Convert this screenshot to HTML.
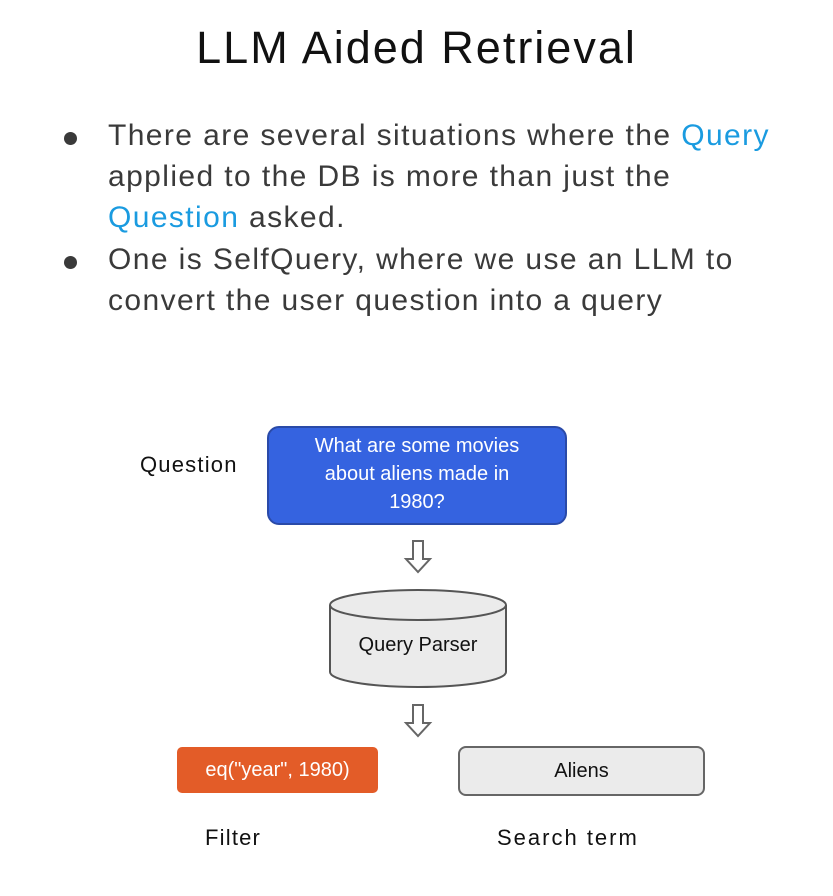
<!DOCTYPE html>
<html><head><meta charset="utf-8"><style>
body{margin:0;width:833px;height:896px;background:#fff;position:relative;overflow:hidden;font-family:"Liberation Sans",sans-serif}
.a{position:absolute;white-space:nowrap}
.title{left:0;width:833px;text-align:center;top:22px;font-size:45px;letter-spacing:2px;color:#111}
.b{left:108px;font-size:30px;letter-spacing:1.4px;color:#3a3a3a}
.q{color:#1a9be0}
.dot{left:64px;width:13px;height:13px;border-radius:50%;background:#3a3a3a}
.l{font-size:22px;color:#111;letter-spacing:1.2px}
</style></head><body>
<div class="a title">LLM Aided Retrieval</div>
<div class="a dot" style="top:132px"></div>
<div class="a dot" style="top:256px"></div>
<div class="a b" style="top:119px">There are several situations where the <span class="q">Query</span></div>
<div class="a b" style="top:160px">applied to the DB is more than just the</div>
<div class="a b" style="top:201px"><span class="q">Question</span> asked.</div>
<div class="a b" style="top:243px">One is SelfQuery, where we use an LLM to</div>
<div class="a b" style="top:284px">convert the user question into a query</div>

<div class="a l" style="left:140px;top:452px">Question</div>
<div class="a" style="left:267px;top:426px;width:296px;height:91px;background:#3563e0;border:2px solid #2a4aa8;border-radius:12px;color:#fff;font-size:20px;text-align:center;line-height:28px;padding-top:4px;box-sizing:content-box;white-space:normal">What are some movies<br>about aliens made in<br>1980?</div>

<svg class="a" style="left:0;top:0" width="833" height="896">
<path d="M413 541 h10 v18 h7 l-12 13 l-12 -13 h7 z" fill="#fff" stroke="#666" stroke-width="2"/>
<path d="M413 705 h10 v18 h7 l-12 13 l-12 -13 h7 z" fill="#fff" stroke="#666" stroke-width="2"/>
<path d="M330 605 v67 a88 15 0 0 0 176 0 v-67" fill="#ebebeb" stroke="#555" stroke-width="2"/>
<ellipse cx="418" cy="605" rx="88" ry="15" fill="#ebebeb" stroke="#555" stroke-width="2"/>
</svg>
<div class="a" style="left:330px;width:176px;text-align:center;top:634px;font-size:20px;color:#111">Query Parser</div>

<div class="a" style="left:177px;top:747px;width:201px;height:46px;background:#e35c28;border-radius:5px;color:#fff;font-size:20px;text-align:center;line-height:46px">eq("year", 1980)</div>
<div class="a" style="left:458px;top:746px;width:243px;height:46px;background:#ebebeb;border:2px solid #666;border-radius:8px;color:#111;font-size:20px;text-align:center;line-height:46px">Aliens</div>
<div class="a l" style="left:205px;top:825px">Filter</div>
<div class="a l" style="left:497px;top:825px;letter-spacing:2px">Search term</div>
</body></html>
